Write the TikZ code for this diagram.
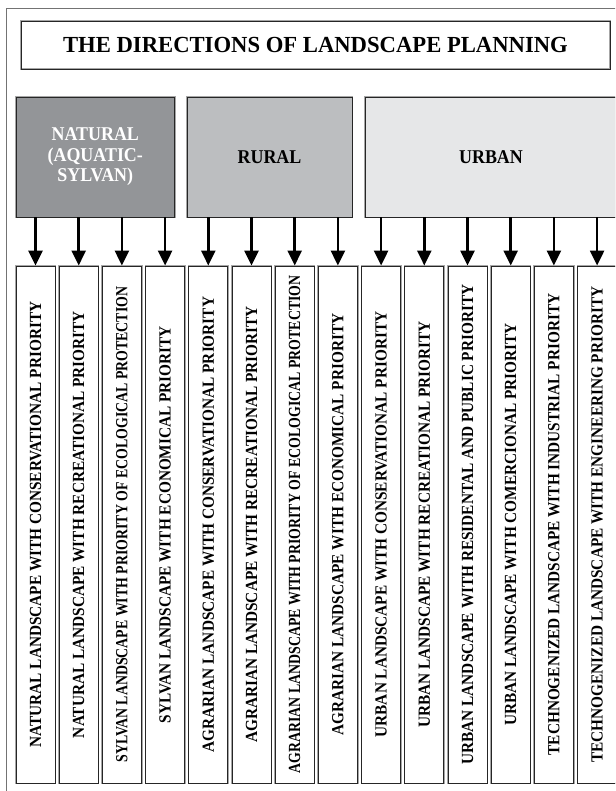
\documentclass[tikz,border=0pt]{standalone}
\usepackage{fontspec}
\setmainfont{Liberation Serif}
\usepackage{graphicx}
\usetikzlibrary{positioning}
\usetikzlibrary{arrows.meta}
\tikzset{>={Triangle[width=14pt,length=15pt]}}
\definecolor{natural_grey}{RGB}{147, 149, 152}
\definecolor{rural_grey}{RGB}{188, 190, 192}
\definecolor{urban_grey}{RGB}{230, 231, 232}
\newcommand{\lbl}[2][0.9]{\rotatebox{90}{\scalebox{#1}[1]{#2}}}

\begin{document}
\begin{tikzpicture}[x=1pt,y=1pt,
					box/.style={draw=black!85, line width=0.9pt, preaction={draw=black!35, line width=2.2pt}, rectangle, inner sep=0pt},
					head/.style={box, minimum width=589pt, minimum height=48pt, font=\fontsize{23}{26}\selectfont\bfseries},
					cat/.style={box, minimum height=120pt, align=center, font=\fontsize{19.5}{20.5}\selectfont\bfseries},
					Natural/.style={cat, fill=natural_grey, text=white, minimum width=158.5pt},
					Rural/.style={cat, fill=rural_grey, minimum width=165pt},
					Urban/.style={cat, fill=urban_grey, minimum width=251pt},
					kind/.style={box, fill=white, minimum width=39pt, minimum height=517pt, font=\fontsize{17}{19}\selectfont\bfseries},
					arr/.style={->, line width=2.5pt, black},
				]
				\useasboundingbox (0,0) rectangle (615,791);
				\clip (0,0) rectangle (615,791);
				\draw[black!55, line width=1.4pt] (6.5,782.5) rectangle (640,-20);

				\node[head] (title) at (315.5,746) {\scalebox{0.985}[1]{THE DIRECTIONS OF LANDSCAPE PLANNING}};

				\node[Natural] (natural) at (95.25,634) {\scalebox{0.92}[1]{NATURAL}\\\scalebox{0.92}[1]{(AQUATIC-}\\\scalebox{0.92}[1]{SYLVAN)}};
				\node[Rural,right=11.6pt of natural] (rural) {\scalebox{0.92}[1]{RURAL}};
				\node[Urban,right=12.6pt of rural] (urban) {\scalebox{0.92}[1]{URBAN}};

				\node[kind] (nat_cons) at (35.5,266.5) {\lbl{NATURAL LANDSCAPE WITH CONSERVATIONAL PRIORITY}};
				\node[kind,right=3.3pt of nat_cons] (nat_rec) {\lbl{NATURAL LANDSCAPE WITH RECREATIONAL PRIORITY}};
				\node[kind,right=3.3pt of nat_rec] (syl_eco) {\lbl[0.815]{SYLVAN LANDSCAPE WITH PRIORITY OF ECOLOGICAL PROTECTION}};
				\node[kind,right=3.3pt of syl_eco] (syl_econ) {\lbl{SYLVAN LANDSCAPE WITH ECONOMICAL PRIORITY}};
				\node[kind,right=3.3pt of syl_econ] (agr_cons) {\lbl{AGRARIAN LANDSCAPE WITH CONSERVATIONAL PRIORITY}};
				\node[kind,right=3.3pt of agr_cons] (agr_rec) {\lbl{AGRARIAN LANDSCAPE WITH RECREATIONAL PRIORITY}};
				\node[kind,right=3.3pt of agr_rec] (agr_eco) {\lbl[0.815]{AGRARIAN LANDSCAPE WITH PRIORITY OF ECOLOGICAL PROTECTION}};
				\node[kind,right=3.3pt of agr_eco] (agr_econ) {\lbl{AGRARIAN LANDSCAPE WITH ECONOMICAL PRIORITY}};
				\node[kind,right=3.3pt of agr_econ] (urb_cons) {\lbl{URBAN LANDSCAPE WITH CONSERVATIONAL PRIORITY}};
				\node[kind,right=3.3pt of urb_cons] (urb_rec) {\lbl{URBAN LANDSCAPE WITH RECREATIONAL PRIORITY}};
				\node[kind,right=3.3pt of urb_rec] (urb_res) {\lbl{URBAN LANDSCAPE WITH RESIDENTAL AND PUBLIC PRIORITY}};
				\node[kind,right=3.3pt of urb_res] (urb_com) {\lbl{URBAN LANDSCAPE WITH COMERCIONAL PRIORITY}};
				\node[kind,right=3.3pt of urb_com] (tech_ind) {\lbl{TECHNOGENIZED LANDSCAPE WITH INDUSTRIAL PRIORITY}};
				\node[kind,right=3.3pt of tech_ind] (tech_eng) {\lbl{TECHNOGENIZED LANDSCAPE WITH ENGINEERING PRIORITY}};

				% Arrows down to the kinds
				\draw[arr] (nat_cons.north |- natural.south) -- (nat_cons.north);
				\draw[arr] (nat_rec.north |- natural.south) -- (nat_rec.north);
				\draw[arr] (syl_eco.north |- natural.south) -- (syl_eco.north);
				\draw[arr] (syl_econ.north |- natural.south) -- (syl_econ.north);
				\draw[arr] (agr_cons.north |- rural.south) -- (agr_cons.north);
				\draw[arr] (agr_rec.north |- rural.south) -- (agr_rec.north);
				\draw[arr] (agr_eco.north |- rural.south) -- (agr_eco.north);
				\draw[arr] (agr_econ.north |- rural.south) -- (agr_econ.north);
				\draw[arr] (urb_cons.north |- urban.south) -- (urb_cons.north);
				\draw[arr] (urb_rec.north |- urban.south) -- (urb_rec.north);
				\draw[arr] (urb_res.north |- urban.south) -- (urb_res.north);
				\draw[arr] (urb_com.north |- urban.south) -- (urb_com.north);
				\draw[arr] (tech_ind.north |- urban.south) -- (tech_ind.north);
				\draw[arr] (tech_eng.north |- urban.south) -- (tech_eng.north);

			\end{tikzpicture}
\end{document}
